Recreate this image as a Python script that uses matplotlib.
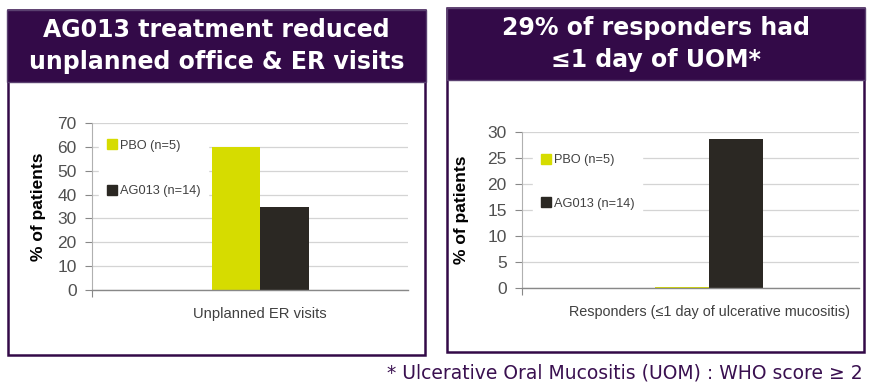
import matplotlib.pyplot as plt
from matplotlib.patches import Rectangle
from matplotlib.lines import Line2D

# data
series = ['PBO (n=5)', 'AG013 (n=14)']
colors = ['#d6dc00', '#2b2823']

left_cat = 'Unplanned ER visits'
left_vals = [60, 35]
left_ticks = [0, 10, 20, 30, 40, 50, 60, 70]

right_cat = 'Responders (\u22641 day of ulcerative mucositis)'
right_vals = [0.15, 28.6]
right_ticks = [0, 5, 10, 15, 20, 25, 30]

left_title = 'AG013 treatment reduced\nunplanned office & ER visits'
right_title = '29% of responders had\n\u22641 day of UOM*'
footnote = '* Ulcerative Oral Mucositis (UOM) : WHO score \u2265 2'

purple = '#330a48'
W, H = 872, 392

fig = plt.figure(figsize=(W / 100, H / 100), dpi=100)


def px_rect(x0, y0, x1, y1):
    # pixel box (top-left origin) -> figure fraction
    return [x0 / W, 1 - y1 / H, (x1 - x0) / W, (y1 - y0) / H]


def panel(box, head, title):
    x0, y0, x1, y1 = box
    fig.patches.append(Rectangle((x0 / W, 1 - y1 / H), (x1 - x0) / W, (y1 - y0) / H,
                                 transform=fig.transFigure, facecolor='white',
                                 edgecolor=purple, lw=1.8, zorder=0))
    hx0, hy0, hx1, hy1 = head
    fig.patches.append(Rectangle((hx0 / W, 1 - hy1 / H), (hx1 - hx0) / W, (hy1 - hy0) / H,
                                 transform=fig.transFigure, facecolor=purple,
                                 edgecolor='#5a4070', lw=1, zorder=1))
    fig.text((hx0 + hx1) / 2 / W, 1 - (hy0 + hy1) / 2 / H, title, ha='center', va='center',
             color='white', fontsize=17, fontweight='bold', family='DejaVu Sans',
             linespacing=1.45)


def chart(rect, vals, cat, ticks, ylim, xlim, bw, legend_anchor, spacing, catsize, ypad):
    ax = fig.add_axes(rect)
    ax.set_zorder(5)
    ax.patch.set_visible(False)
    xs = [-bw / 2, bw / 2]
    for x, v, c in zip(xs, vals, colors):
        ax.bar(x, v, width=bw, color=c, zorder=2)
    ax.set_xlim(*xlim)
    ax.set_ylim(*ylim)
    ax.set_yticks(ticks)
    ax.set_yticklabels([str(t) for t in ticks], family='Liberation Sans')
    ax.tick_params(axis='y', length=5, width=0.8, color='#888888', labelsize=12.5,
                   labelcolor='#505050', pad=6)
    ax.set_xticks([0])
    ax.set_xticklabels([cat], family='Liberation Sans', fontsize=catsize, color='#404040')
    ax.tick_params(axis='x', length=0, pad=12)
    ax.set_xticks([xlim[0]], minor=True)
    ax.tick_params(axis='x', which='minor', length=5, color='#888888', width=0.8)
    ax.grid(axis='y', color='#d4d4d4', lw=0.9, zorder=0)
    ax.set_axisbelow(True)
    for s in ['top', 'right']:
        ax.spines[s].set_visible(False)
    ax.spines['left'].set_color('#b0b0b0')
    ax.spines['bottom'].set_color('#888888')
    ax.spines['bottom'].set_linewidth(1.0)
    ax.set_ylabel('% of patients', fontsize=12.5, fontweight='bold',
                  family='Liberation Sans', color='black', labelpad=ypad)
    handles = [Line2D([], [], marker='s', ls='none', markersize=6.5, color=c) for c in colors]
    leg = ax.legend(handles, series, loc='upper left', bbox_to_anchor=legend_anchor,
                    frameon=True, fancybox=False, edgecolor='white', framealpha=1,
                    labelspacing=spacing, handlelength=0.8, handletextpad=0.25,
                    borderpad=0.6, borderaxespad=0,
                    prop={'family': 'Liberation Sans', 'size': 9.2})
    leg.set_zorder(1.5)
    for t in leg.get_texts():
        t.set_color('#404040')
    return ax


panel((8, 10, 425, 355), (7, 10, 426, 82), left_title)
panel((447, 8, 864, 352), (447, 8, 865, 80), right_title)

chart(px_rect(92, 123, 408, 290), left_vals, left_cat, left_ticks, (0, 70),
      (-0.532, 0.468), 0.1535, (0.022, 0.945), 2.6, 10.6, 8)
chart(px_rect(522, 132, 859, 288), right_vals, right_cat, right_ticks, (0, 30),
      (-0.555, 0.445), 0.16, (0.033, 0.905), 2.45, 10.4, 13)

fig.text(863 / W, 1 - 373 / H, footnote, ha='right', va='center', color='#3a1050',
         fontsize=13.5, family='DejaVu Sans')

fig.savefig('out.png', dpi=100)
